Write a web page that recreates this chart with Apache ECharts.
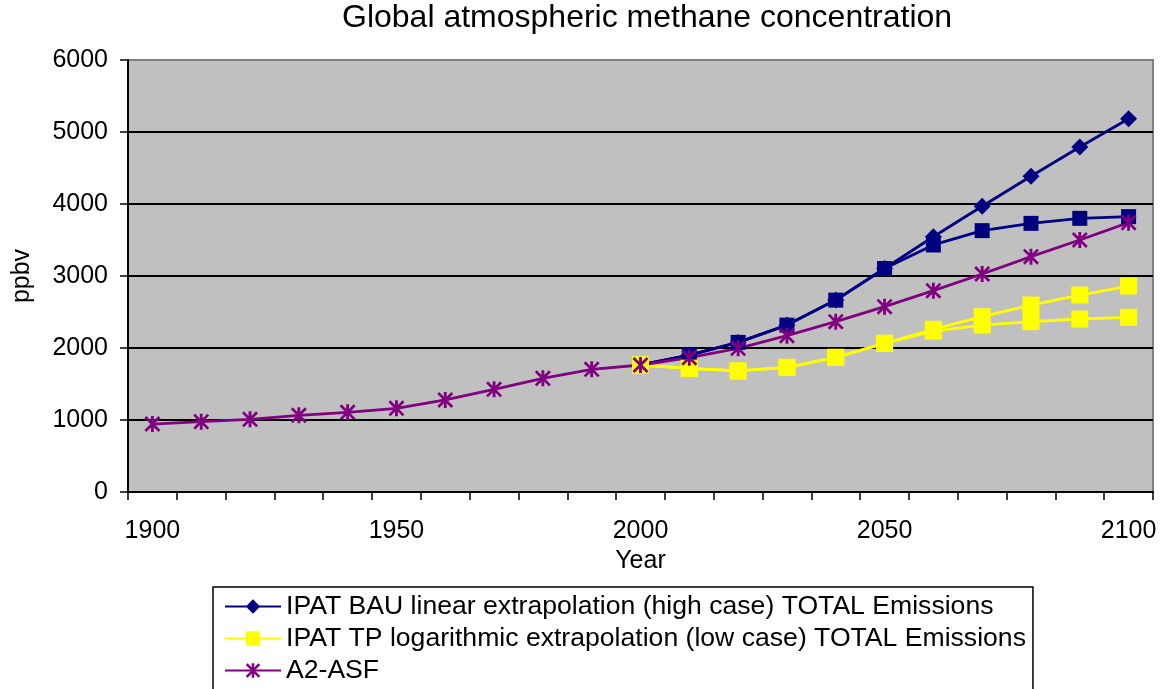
<!DOCTYPE html>
<html>
<head>
<meta charset="utf-8">
<script src="https://cdn.jsdelivr.net/npm/echarts@6/dist/echarts.min.js"></script>
<style>
html,body{margin:0;padding:0;background:#fff;}
#chart{width:1170px;height:689px;}
</style>
</head>
<body>
<div id="chart"></div>
<script>
const years = ['1900','1910','1920','1930','1940','1950','1960','1970','1980','1990','2000',
               '2010','2020','2030','2040','2050','2060','2070','2080','2090','2100'];
const yTicks = [0, 1000, 2000, 3000, 4000, 5000, 6000];

const bauHigh = [null,null,null,null,null,null,null,null,null,null,
                 1764,1902,2078,2318,2665,3104,3545,3969,4385,4792,5185];
const bauHigh2 = [null,null,null,null,null,null,null,null,null,null,
                  1764,1902,2078,2318,2665,3104,3431,3630,3731,3801,3824];
const tpLow = [null,null,null,null,null,null,null,null,null,null,
               1764,1718,1681,1731,1870,2065,2260,2435,2597,2736,2861];
const tpLow2 = [null,null,null,null,null,null,null,null,null,null,
                1764,1718,1681,1731,1870,2065,2235,2319,2366,2403,2426];
const a2asf = [944,977,1009,1065,1106,1162,1278,1426,1579,1704,1764,
               1866,1995,2171,2366,2574,2796,3028,3269,3500,3741];

const names = [
  'IPAT BAU linear extrapolation (high case) TOTAL Emissions',
  'IPAT TP logarithmic extrapolation (low case) TOTAL Emissions',
  'A2-ASF'
];

const FONT = '"Liberation Sans", Arial, sans-serif';
const asterisk = 'path://M41 0 L59 0 L59 100 L41 100 Z M0 12 L12 0 L100 88 L88 100 Z M88 0 L100 12 L12 100 L0 88 Z';

const chart = echarts.init(document.getElementById('chart'), null, {renderer: 'canvas'});
chart.setOption({
  animation: false,
  backgroundColor: '#ffffff',
  title: {
    text: 'Global atmospheric methane concentration',
    left: 342, top: 2, padding: 0,
    textStyle: {fontFamily: FONT, fontSize: 32, fontWeight: 'normal', color: '#000'}
  },
  grid: {
    left: 128, right: 17, top: 60, bottom: 197,
    show: true, backgroundColor: '#c0c0c0', borderColor: '#808080', borderWidth: 2
  },
  legend: {
    orient: 'vertical',
    left: 213, top: 587, height: 140,
    data: names,
    padding: [6, 7, 40, 11],
    itemWidth: 56, itemHeight: 18, itemGap: 5,
    borderColor: '#000', borderWidth: 1.5,
    backgroundColor: '#fff',
    textStyle: {fontFamily: FONT, fontSize: 26.6, lineHeight: 26, color: '#000'}
  },
  xAxis: {
    type: 'category',
    data: years,
    boundaryGap: true,
    name: 'Year', nameLocation: 'middle', nameGap: 56,
    nameTextStyle: {fontFamily: FONT, fontSize: 25, color: '#000'},
    axisLine: {lineStyle: {color: '#000', width: 2}},
    axisTick: {show: true, interval: 0, length: 8, lineStyle: {color: '#000', width: 1.5}},
    axisLabel: {interval: 4, margin: 27, fontFamily: FONT, fontSize: 25, color: '#000'},
    splitLine: {show: false}
  },
  yAxis: {
    type: 'value',
    min: yTicks[0], max: yTicks[yTicks.length - 1], interval: 1000,
    name: 'ppbv', nameLocation: 'middle', nameGap: 93, nameRotate: 90,
    nameTextStyle: {fontFamily: FONT, fontSize: 25, color: '#000'},
    axisLine: {show: true, lineStyle: {color: '#000', width: 2}},
    axisTick: {show: true, length: 8, lineStyle: {color: '#000', width: 1.5}},
    axisLabel: {margin: 20, fontFamily: FONT, fontSize: 25, color: '#000',
                formatter: function (v) { return String(v); }},
    splitLine: {show: true, lineStyle: {color: ['#000','#000','#000','#000','#000','#000','#808080'], width: 2}}
  },
  series: [
    {name: names[0], type: 'line', data: bauHigh, symbol: 'diamond', symbolSize: 17,
     showAllSymbol: true, color: '#000080', lineStyle: {color: '#000080', width: 2.8},
     itemStyle: {color: '#000080'}},
    {name: 'BAU-2', type: 'line', data: bauHigh2, symbol: 'rect', symbolSize: 15,
     showAllSymbol: true, color: '#000080', lineStyle: {color: '#000080', width: 2.8},
     itemStyle: {color: '#000080'}},
    {name: names[1], type: 'line', data: tpLow, symbol: 'rect', symbolSize: 17,
     showAllSymbol: true, color: '#ffff00', lineStyle: {color: '#ffff00', width: 2.8},
     itemStyle: {color: '#ffff00'}},
    {name: 'TP-2', type: 'line', data: tpLow2, symbol: 'rect', symbolSize: 17,
     showAllSymbol: true, color: '#ffff00', lineStyle: {color: '#ffff00', width: 2.8},
     itemStyle: {color: '#ffff00'}},
    {name: names[2], type: 'line', data: a2asf, symbol: asterisk, symbolSize: 16,
     showAllSymbol: true, color: '#800080', lineStyle: {color: '#800080', width: 2.8},
     itemStyle: {color: '#800080'}}
  ]
});
</script>
</body>
</html>
